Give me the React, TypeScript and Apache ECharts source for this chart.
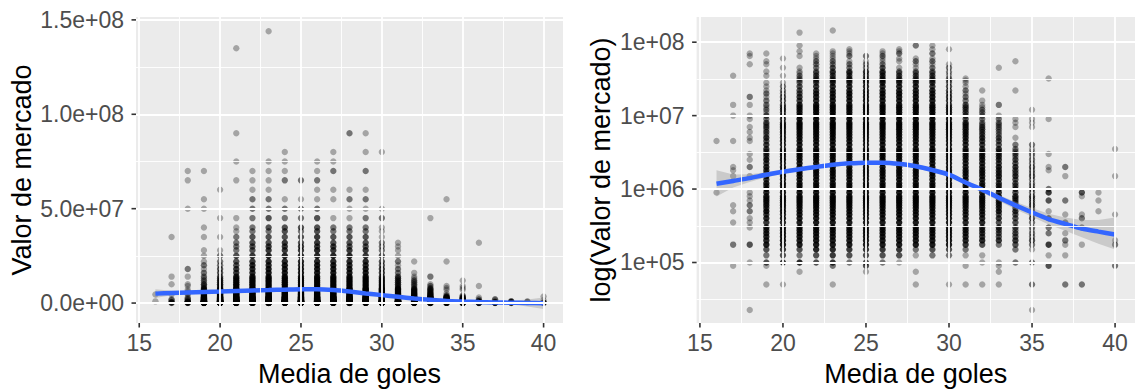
import { useEffect, useRef } from "react";
import * as echarts from "echarts";

// ---- data ----
const AGES = [16, 17, 18, 19, 20, 21, 22, 23, 24, 25, 26, 27, 28, 29, 30, 31, 32, 33, 34, 35, 36, 37, 38, 39, 40];

// market-value levels (millions of euros), 8 groups of 10
const VALUE_LEVELS_M = [
  0.0225, 0.05, 0.075, 0.09, 0.1, 0.125, 0.15, 0.175, 0.2, 0.225,
  0.25, 0.275, 0.3, 0.35, 0.4, 0.45, 0.5, 0.55, 0.6, 0.65,
  0.7, 0.75, 0.8, 0.9, 1, 1.1, 1.2, 1.35, 1.5, 1.65,
  1.8, 2, 2.25, 2.5, 2.75, 3, 3.25, 3.5, 4, 4.5,
  5, 5.5, 6, 6.5, 7, 7.5, 8, 9, 10, 11,
  12, 13, 14, 16, 18, 20, 22, 25, 28, 30,
  32, 35, 38, 40, 45, 50, 55, 60, 65, 70,
  75, 80, 90, 100, 110, 120, 130, 135, 140, 144,
];

// number of players at each (age, value level); one string per age, one digit per level
const COUNT_ROWS = [
  "0000000000 0000000000 0001000000 0000000001 0000000000 0000000000 0000000000 0000000000", // 16
  "0001000200 0001001010 0000000010 1100000001 0000000010 0010000000 0100000000 0000000000", // 17
  "1000100300 0011102020 1011000010 0201010001 1010100110 0010200000 0000010011 0000000000", // 18
  "0101323655 5454546454 5455645453 4545343443 4232323231 2122121110 0101011001 0000000000", // 19
  "0100434666 6565656565 6566656565 5656565555 5454544443 4333322210 0100100100 0000000000", // 20
  "0010523666 6666666666 6666666666 6666666666 6666666665 5554433322 2211100010 1010000100", // 21
  "0000335666 6666666666 6666666666 6666666666 6666666666 6665554433 3322222111 0000000000", // 22
  "0102445666 6666666666 6666666666 6666666666 6666666666 6666655544 3323322111 1000000001", // 23
  "0000234666 6666666666 6666666666 6666666666 6666666666 6666665544 4333221021 1100000000", // 24
  "0013334666 6666666666 6666666666 6666666666 6666666666 6666655544 3323221020 0000000000", // 25
  "0000234666 6666666666 6666666666 6666666666 6666666666 6666665554 4433321121 1000000000", // 26
  "0000134666 6666666666 6666666666 6666666666 6666666666 6666665544 3322101102 1100000000", // 27
  "0110012666 6666666666 6666666666 6666666666 6666666666 6666655543 3322112100 0020000000", // 28
  "0000023666 6666666666 6666666666 6666666666 6666666666 6666655443 3322212102 0110000000", // 29
  "0100023666 6666666666 6666666666 6666666666 6666666655 5444433322 2111210000 0100000000", // 30
  "0101012455 5555555555 5555555555 5555555555 5554444333 3332212111 1000000000 0000000000", // 31
  "0100110354 4445555555 5555555555 5555554444 4333322222 2111001000 0000000000 0000000000", // 32
  "0111100243 3343435444 4454544454 4544443433 3222222210 0020000000 0000100000 0000000000", // 33
  "0000202343 3233334343 3343433343 3433232220 1000101100 0000001000 0000001000 0000000000", // 34
  "1200201232 2122323232 2232322232 2322121120 0000101100 1000000000 0000000000 0000000000", // 35
  "0003010400 2020301000 3004200000 1100010000 0000000100 0000000000 1000000000 0000000000", // 36
  "0200010120 1002010000 2000000010 0200000000 0000000000 0000000000 0000000000 0000000000", // 37
  "0200000100 0020210000 0013000000 0000000000 0000000000 0000000000 0000000000 0000000000", // 38
  "0000000000 0000001000 1001000000 0000000000 0000000000 0000000000 0000000000 0000000000", // 39
  "0002000210 0000010000 0000000010 0000000100 0000000000 0000000000 0000000000 0000000000", // 40
];

// loess fit, linear scale (millions)
const LIN_FIT_M = [5.0, 5.3, 5.6, 5.9, 6.1, 6.4, 6.7, 6.9, 7.1, 7.3, 7.3, 6.9, 6.1, 5.1, 4.2, 3.3, 2.4, 1.7, 1.1, 0.8, 0.55, 0.35, 0.2, 0.05, -0.1];
const LIN_LO_M = [2.7, 4.1, 5.0, 5.5, 5.8, 6.1, 6.4, 6.6, 6.8, 7.0, 7.0, 6.6, 5.8, 4.8, 3.9, 3.0, 2.1, 1.4, 0.75, 0.4, 0.05, -0.45, -0.8, -1.85, -3.2];
const LIN_HI_M = [7.3, 6.5, 6.2, 6.3, 6.4, 6.7, 7.0, 7.2, 7.4, 7.6, 7.6, 7.2, 6.4, 5.4, 4.5, 3.6, 2.7, 2.0, 1.45, 1.2, 1.05, 1.15, 1.2, 1.95, 3.0];

// loess fit, log scale (millions)
const LOG_FIT_M = [1.18, 1.29, 1.41, 1.57, 1.72, 1.86, 2.0, 2.14, 2.24, 2.29, 2.29, 2.21, 2.04, 1.82, 1.57, 1.23, 0.98, 0.76, 0.6, 0.48, 0.39, 0.335, 0.29, 0.263, 0.24];
const LOG_LO_M = [0.79, 1.05, 1.25, 1.45, 1.62, 1.76, 1.89, 2.02, 2.11, 2.16, 2.16, 2.08, 1.92, 1.71, 1.47, 1.15, 0.9, 0.69, 0.53, 0.42, 0.33, 0.27, 0.22, 0.18, 0.15];
const LOG_HI_M = [1.8, 1.58, 1.59, 1.7, 1.83, 1.97, 2.12, 2.27, 2.37, 2.42, 2.42, 2.34, 2.17, 1.93, 1.67, 1.32, 1.06, 0.83, 0.67, 0.55, 0.46, 0.41, 0.38, 0.38, 0.41];

// axis breaks
const X_TICKS = [15, 20, 25, 30, 35, 40];
const X_MINOR = [17.5, 22.5, 27.5, 32.5, 37.5];
const Y_LIN_TICKS = [0, 5e7, 1e8, 1.5e8];
const Y_LIN_MINOR = [2.5e7, 7.5e7, 1.25e8];
const Y_LOG_TICK_EXP = [5, 6, 7, 8];
const Y_LOG_MINOR_EXP = [4.5, 5.5, 6.5, 7.5];

// ---- styles ----
const FONT = "'Liberation Sans', Arial, Helvetica, sans-serif";
const ALPHA = 0.3;
const PANEL_BG = "#EBEBEB";
const TICK_FONT = 23;
const TITLE_FONT = 27;
const TICK_LEN = 4.5;

function buildPoints(log: boolean) {
  const pts: any[] = [];
  AGES.forEach((age, i) => {
    const row = COUNT_ROWS[i].replace(/ /g, "");
    for (let j = 0; j < VALUE_LEVELS_M.length; j++) {
      const c = Number(row[j]);
      if (!c) continue;
      const v = VALUE_LEVELS_M[j] * 1e6;
      pts.push({
        value: [age, log ? Math.log10(v) : v],
        itemStyle: { opacity: 1 - Math.pow(1 - ALPHA, c) },
      });
    }
  });
  return pts;
}

function gridLines(idx: number, yMajor: number[], yMinor: number[]) {
  const major = { color: "#FFFFFF", width: 1.8, type: "solid" };
  const minor = { color: "#FFFFFF", width: 0.9, type: "solid" };
  return {
    type: "scatter",
    xAxisIndex: idx,
    yAxisIndex: idx,
    data: [],
    z: 1,
    silent: true,
    markLine: {
      silent: true,
      symbol: ["none", "none"],
      label: { show: false },
      emphasis: { disabled: true },
      animation: false,
      data: [
        ...X_MINOR.map((v) => ({ xAxis: v, lineStyle: minor })),
        ...yMinor.map((v) => ({ yAxis: v, lineStyle: minor })),
        ...X_TICKS.map((v) => ({ xAxis: v, lineStyle: major })),
        ...yMajor.map((v) => ({ yAxis: v, lineStyle: major })),
      ],
    },
  };
}

// axis tick marks, positioned through the axes' own scales
function tickMarks(idx: number, yTicks: number[], yRef: number, xRef: number) {
  return {
    type: "custom",
    xAxisIndex: idx,
    yAxisIndex: idx,
    z: 5,
    silent: true,
    clip: false,
    data: [[xRef, yRef]],
    renderItem: (params: any, api: any) => {
      const cs = params.coordSys;
      const bottom = cs.y + cs.height;
      const left = cs.x;
      const style = { stroke: "#333333", lineWidth: 1.6 };
      const children: any[] = [];
      X_TICKS.forEach((t) => {
        const x = api.coord([t, yRef])[0];
        children.push({ type: "line", shape: { x1: x, y1: bottom, x2: x, y2: bottom + TICK_LEN }, style });
      });
      yTicks.forEach((t) => {
        const y = api.coord([xRef, t])[1];
        children.push({ type: "line", shape: { x1: left - TICK_LEN, y1: y, x2: left, y2: y }, style });
      });
      return { type: "group", children };
    },
  };
}

function ribbon(idx: number, lo: number[], hi: number[], log: boolean) {
  const tf = (m: number) => (log ? Math.log10(m * 1e6) : m * 1e6);
  const data = AGES.map((a, i) => [a, tf(lo[i]), tf(hi[i])]);
  return {
    type: "custom",
    xAxisIndex: idx,
    yAxisIndex: idx,
    z: 3,
    silent: true,
    data,
    renderItem: (params: any, api: any) => {
      if (params.dataIndex !== 0) return null;
      const upper = data.map((d) => api.coord([d[0], d[2]]));
      const lower = data.map((d) => api.coord([d[0], d[1]])).reverse();
      return {
        type: "polygon",
        shape: { points: upper.concat(lower) },
        style: { fill: "rgba(153,153,153,0.4)", stroke: "none" },
      };
    },
  };
}

function fitLine(idx: number, fit: number[], log: boolean) {
  return {
    type: "line",
    xAxisIndex: idx,
    yAxisIndex: idx,
    z: 4,
    silent: true,
    smooth: 0.25,
    showSymbol: false,
    symbol: "none",
    lineStyle: { color: "#3366FF", width: 4.5 },
    data: AGES.map((a, i) => [a, log ? Math.log10(fit[i] * 1e6) : fit[i] * 1e6]),
  };
}

function scatter(idx: number, log: boolean) {
  return {
    type: "scatter",
    xAxisIndex: idx,
    yAxisIndex: idx,
    z: 2,
    silent: true,
    symbol: "circle",
    symbolSize: 6.4,
    itemStyle: { color: "#000000" },
    data: buildPoints(log),
  };
}

function linLabel(v: number) {
  if (v === 0) return "0.0e+00";
  const [m, e] = v.toExponential(1).split("e");
  return `${m}e${e[0]}${e.slice(1).padStart(2, "0")}`;
}

const hiddenLine = { show: false };

function xAxis(idx: number) {
  return {
    type: "value",
    gridIndex: idx,
    min: 14.8,
    max: 41.2,
    axisLine: hiddenLine,
    splitLine: { show: false },
    axisTick: { show: false },
    axisLabel: { customValues: X_TICKS, color: "#4D4D4D", fontSize: TICK_FONT, margin: 8, fontFamily: FONT },
    name: "Media de goles",
    nameLocation: "middle",
    nameGap: 37,
    nameTextStyle: { color: "#000000", fontSize: TITLE_FONT, fontFamily: FONT },
  };
}

export default function App() {
  const ref = useRef<HTMLDivElement>(null);
  useEffect(() => {
    if (!ref.current) return;
    const chart = echarts.init(ref.current, null, { renderer: "svg" });
    chart.setOption({
      animation: false,
      backgroundColor: "#FFFFFF",
      grid: [
        { left: 136, top: 17, width: 427, height: 307, show: true, backgroundColor: PANEL_BG, borderWidth: 0 },
        { left: 696.6, top: 17, width: 445.4, height: 307, show: true, backgroundColor: PANEL_BG, borderWidth: 0 },
      ],
      xAxis: [xAxis(0), xAxis(1)],
      yAxis: [
        {
          type: "value",
          gridIndex: 0,
          min: -1.056e7,
          max: 1.5153e8,
          axisLine: hiddenLine,
          splitLine: { show: false },
          axisTick: { show: false },
          axisLabel: { customValues: Y_LIN_TICKS, formatter: linLabel, color: "#4D4D4D", fontSize: TICK_FONT, margin: 12, fontFamily: FONT },
          name: "Valor de mercado",
          nameLocation: "middle",
          nameGap: 101,
          nameTextStyle: { color: "#000000", fontSize: TITLE_FONT, fontFamily: FONT },
        },
        {
          type: "value",
          gridIndex: 1,
          min: 4.176,
          max: 8.343,
          axisLine: hiddenLine,
          splitLine: { show: false },
          axisTick: { show: false },
          axisLabel: {
            customValues: Y_LOG_TICK_EXP,
            formatter: (v: number) => "1e+" + String(Math.round(v)).padStart(2, "0"),
            color: "#4D4D4D",
            fontSize: TICK_FONT,
            margin: 12,
            fontFamily: FONT,
          },
          name: "log(Valor de mercado)",
          nameLocation: "middle",
          nameGap: 82,
          nameTextStyle: { color: "#000000", fontSize: TITLE_FONT, fontFamily: FONT },
        },
      ],
      series: [
        gridLines(0, Y_LIN_TICKS, Y_LIN_MINOR),
        gridLines(1, Y_LOG_TICK_EXP, Y_LOG_MINOR_EXP),
        scatter(0, false),
        scatter(1, true),
        ribbon(0, LIN_LO_M, LIN_HI_M, false),
        ribbon(1, LOG_LO_M, LOG_HI_M, true),
        fitLine(0, LIN_FIT_M, false),
        fitLine(1, LOG_FIT_M, true),
        tickMarks(0, Y_LIN_TICKS, 0, 15),
        tickMarks(1, Y_LOG_TICK_EXP, 5, 15),
      ],
    });
    return () => chart.dispose();
  }, []);
  return (
    <div
      ref={ref}
      style={{ position: "absolute", left: 0, top: 0, width: 1135, height: 392 }}
    />
  );
}
